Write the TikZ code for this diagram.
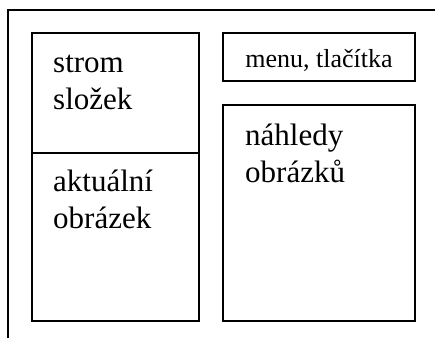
\documentclass[tikz,border=0pt]{standalone}
\usepackage{fontspec}
\setmainfont{Liberation Serif}
\begin{document}
\begin{tikzpicture}[x=1pt,y=-1pt,
  frameline/.style={line width=2pt},
  panel/.style={line width=2pt},
  bigtext/.style={font=\fontsize{31}{37}\selectfont, align=left, inner sep=0pt, anchor=base west},
  smalltext/.style={font=\fontsize{26}{30}\selectfont, inner sep=0pt, anchor=base}]
\useasboundingbox (0,0) rectangle (435,338);
% outer frame (top and left only)
\draw[frameline] (8,338) -- (8,10) -- (435,10);
% left panel
\draw[panel] (32,33) rectangle (199,321);
\draw[panel] (32,153) -- (199,153);
% menu box
\draw[panel] (223,33) rectangle (415,81);
% preview box
\draw[panel] (223,105) rectangle (415,321);
% texts (base anchor = baseline of last line)
\node[bigtext] (strom) at (53,109) {strom\\složek};
\node[bigtext] (akt) at (53,228) {aktuální\\obrázek};
\node[bigtext] (nahl) at (245,182) {náhledy\\obrázků};
\node[smalltext] (menu) at (319,67) {menu, tlačítka};
\end{tikzpicture}
\end{document}
